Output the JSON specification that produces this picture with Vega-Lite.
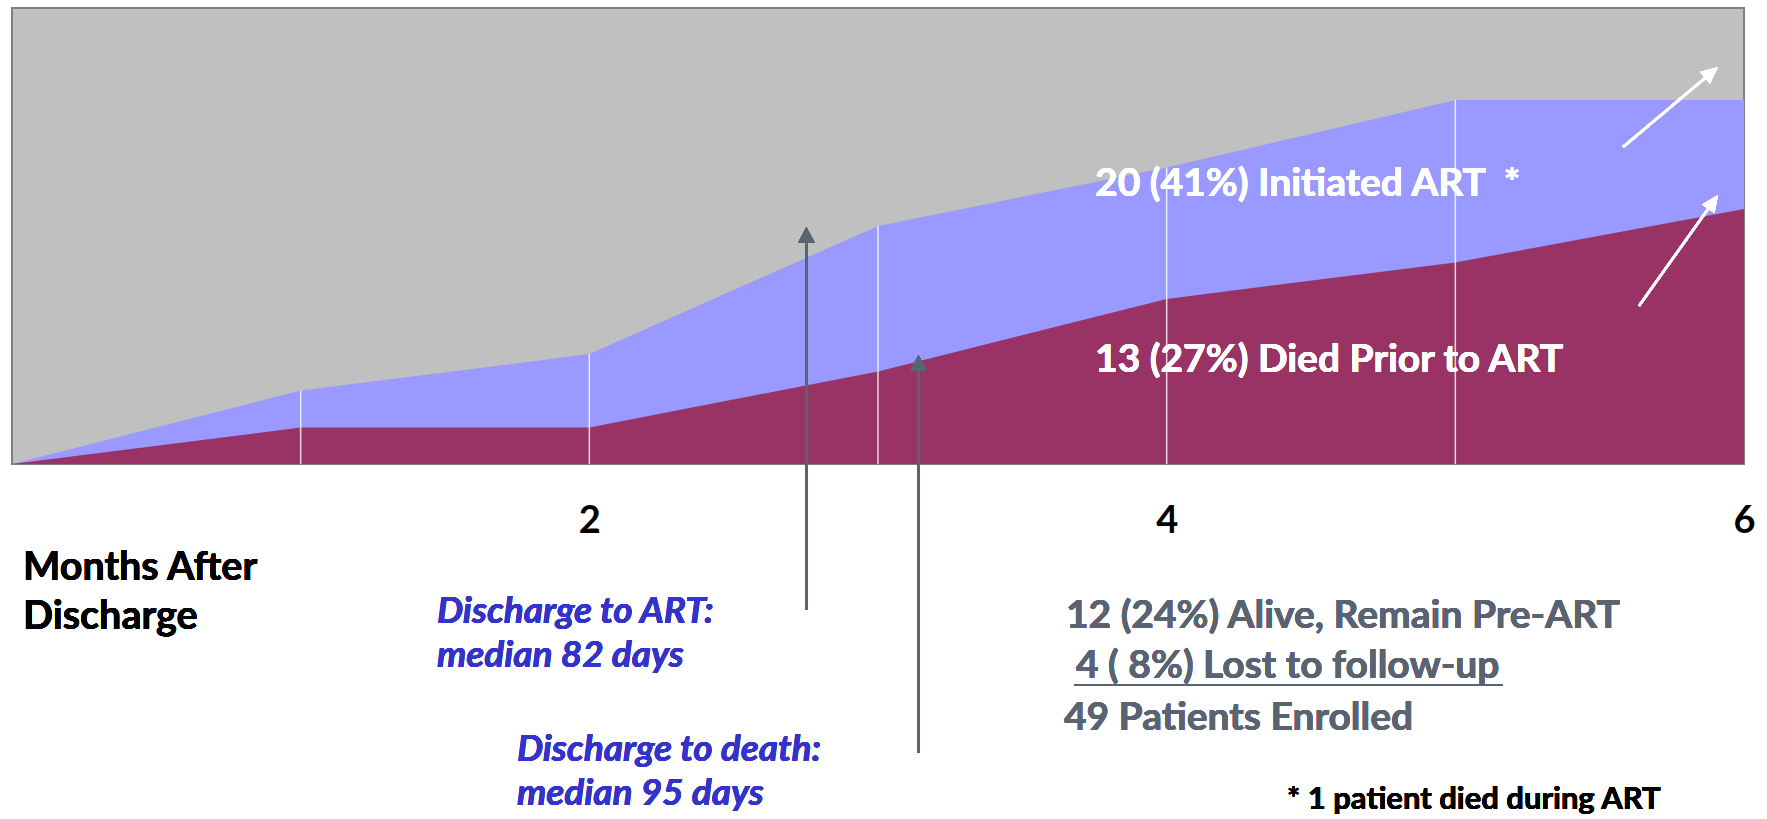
{
  "$schema": "https://vega.github.io/schema/vega-lite/v6.json",
  "width": 1732,
  "height": 456,
  "autosize": {"type": "none"},
  "padding": {"left": 12, "top": 8, "right": 23, "bottom": 355},
  "background": "white",
  "config": {
    "view": {"fill": "#C0C0C0", "stroke": "#808080", "strokeWidth": 2},
    "text": {"font": "Lato", "fontWeight": "bold"}
  },
  "data": {
    "values": [
      {"month": 0, "died": 0, "total": 0},
      {"month": 1, "died": 8.0, "total": 16.1},
      {"month": 2, "died": 8.0, "total": 24.1},
      {"month": 3, "died": 20.3, "total": 52.2},
      {"month": 4, "died": 36.2, "total": 65.0},
      {"month": 5, "died": 44.2, "total": 79.8},
      {"month": 6, "died": 55.9, "total": 79.8}
    ]
  },
  "layer": [
    {
      "mark": {"type": "area", "color": "#9999FF", "interpolate": "linear", "opacity": 1},
      "encoding": {
        "x": {
          "field": "month", "type": "quantitative",
          "scale": {"domain": [0, 6], "nice": false, "zero": false},
          "axis": {
            "values": [2, 4, 6], "format": "d", "title": null, "domain": false, "ticks": false, "tickSize": 0,
            "grid": false, "labelFont": "Lato", "labelFontWeight": "bold", "labelFontSize": 38,
            "labelColor": "black", "labelPadding": 68, "labelBaseline": "alphabetic",
            "labelFlush": false, "labelOverlap": false
          }
        },
        "y": {
          "field": "total", "type": "quantitative",
          "scale": {"domain": [0, 100], "nice": false},
          "axis": null
        }
      }
    },
    {
      "mark": {"type": "area", "color": "#993366", "interpolate": "linear", "opacity": 1},
      "encoding": {
        "x": {"field": "month", "type": "quantitative"},
        "y": {"field": "died", "type": "quantitative"}
      }
    },
    {
      "transform": [{"filter": "datum.month > 0 && datum.month < 6"}],
      "mark": {"type": "rule", "color": "white", "strokeWidth": 1.5, "opacity": 0.8},
      "encoding": {
        "x": {"field": "month", "type": "quantitative"},
        "y": {"field": "total", "type": "quantitative"},
        "y2": {"datum": 0}
      }
    },
    {
      "mark": {"type": "text", "text": "20 (41%) Initiated ART\u00a0\u00a0*", "color": "white", "fontSize": 39, "align": "left", "baseline": "alphabetic"},
      "encoding": {"x": {"datum": 3.752}, "y": {"datum": 58.7}}
    },
    {
      "mark": {"type": "text", "text": "13 (27%) Died Prior to ART", "color": "white", "fontSize": 39, "align": "left", "baseline": "alphabetic"},
      "encoding": {"x": {"datum": 3.752}, "y": {"datum": 20.25}}
    },
    {
      "mark": {"type": "text", "text": ["Months After", "Discharge"], "color": "black", "fontSize": 39.5, "lineHeight": 49, "align": "left", "baseline": "alphabetic"},
      "encoding": {"x": {"datum": 0.038}, "y": {"datum": -25.44}}
    },
    {
      "mark": {"type": "text", "text": ["Discharge to ART:", "median 82 days"], "color": "#3333CC", "fontStyle": "italic", "fontSize": 37, "lineHeight": 44, "align": "left", "baseline": "alphabetic"},
      "encoding": {"x": {"datum": 1.472}, "y": {"datum": -34.8}}
    },
    {
      "mark": {"type": "text", "text": ["Discharge to death:", "median 95 days"], "color": "#3333CC", "fontStyle": "italic", "fontSize": 37, "lineHeight": 44, "align": "left", "baseline": "alphabetic"},
      "encoding": {"x": {"datum": 1.749}, "y": {"datum": -65.07}}
    },
    {
      "mark": {"type": "text", "text": "12 (24%) Alive, Remain Pre-ART", "color": "#5A6372", "fontSize": 39, "align": "left", "baseline": "alphabetic"},
      "encoding": {"x": {"datum": 3.651}, "y": {"datum": -35.9}}
    },
    {
      "mark": {"type": "text", "text": "4 ( 8%) Lost to follow-up", "color": "#5A6372", "fontSize": 39, "align": "left", "baseline": "alphabetic"},
      "encoding": {"x": {"datum": 3.686}, "y": {"datum": -46.93}}
    },
    {
      "mark": {"type": "rule", "color": "#5A6372", "strokeWidth": 2},
      "encoding": {"x": {"datum": 3.679}, "x2": {"datum": 5.165}, "y": {"datum": -48.46}}
    },
    {
      "mark": {"type": "text", "text": "49 Patients Enrolled", "color": "#5A6372", "fontSize": 39, "align": "left", "baseline": "alphabetic"},
      "encoding": {"x": {"datum": 3.644}, "y": {"datum": -58.33}}
    },
    {
      "mark": {"type": "text", "text": "* 1 patient died during ART", "color": "black", "fontSize": 31, "align": "left", "baseline": "alphabetic"},
      "encoding": {"x": {"datum": 4.417}, "y": {"datum": -75.6}}
    },
    {
      "mark": {"type": "rule", "color": "#5B6371", "strokeWidth": 2.5},
      "encoding": {"x": {"datum": 2.752}, "y": {"datum": -32.0}, "y2": {"datum": 50.2}}
    },
    {
      "mark": {"type": "point", "shape": "M0,0 L-0.53,1 L0.53,1 Z", "filled": true, "size": 1024, "color": "#5B6371", "opacity": 1, "strokeWidth": 0},
      "encoding": {"x": {"datum": 2.752}, "y": {"datum": 51.97}}
    },
    {
      "mark": {"type": "rule", "color": "#5B6371", "strokeWidth": 2.5},
      "encoding": {"x": {"datum": 3.14}, "y": {"datum": -63.38}, "y2": {"datum": 22.15}}
    },
    {
      "mark": {"type": "point", "shape": "M0,0 L-0.53,1 L0.53,1 Z", "filled": true, "size": 1024, "color": "#5B6371", "opacity": 1, "strokeWidth": 0},
      "encoding": {"x": {"datum": 3.14}, "y": {"datum": 23.9}}
    },
    {
      "mark": {"type": "rule", "color": "white", "strokeWidth": 2.5},
      "encoding": {"x": {"datum": 5.581}, "y": {"datum": 69.52}, "x2": {"datum": 5.889}, "y2": {"datum": 85.9}}
    },
    {
      "mark": {"type": "point", "shape": "M0,0 L-0.45,1 L0.45,1 Z", "filled": true, "size": 1156, "color": "white", "opacity": 1, "strokeWidth": 0, "angle": 50},
      "encoding": {"x": {"datum": 5.91}, "y": {"datum": 87.06}}
    },
    {
      "mark": {"type": "rule", "color": "white", "strokeWidth": 2.5},
      "encoding": {"x": {"datum": 5.636}, "y": {"datum": 34.65}, "x2": {"datum": 5.894}, "y2": {"datum": 57.57}}
    },
    {
      "mark": {"type": "point", "shape": "M0,0 L-0.45,1 L0.45,1 Z", "filled": true, "size": 1156, "color": "white", "opacity": 1, "strokeWidth": 0, "angle": 35},
      "encoding": {"x": {"datum": 5.91}, "y": {"datum": 58.99}}
    }
  ]
}
